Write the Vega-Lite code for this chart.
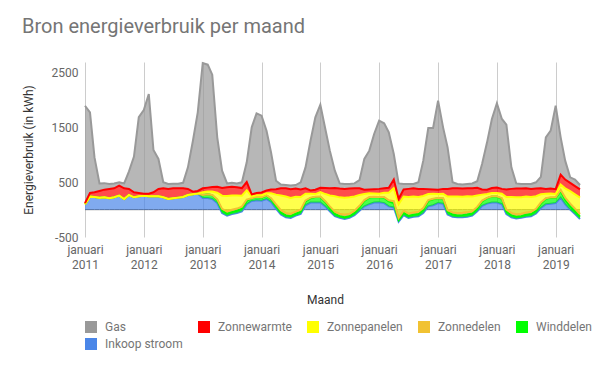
{
  "$schema": "https://vega.github.io/schema/vega-lite/v6.json",
  "width": 600,
  "height": 371,
  "autosize": {"type": "fit", "contains": "padding"},
  "padding": {"left": 22, "top": 18, "right": 16, "bottom": 21},
  "background": "#ffffff",
  "config": {"font": "Roboto", "view": {"stroke": null}, "axisY": {"labelOverlap": false}, "axis": {"labelOverlap": false}},
  "title": {"text": "Bron energieverbruik per maand", "anchor": "start", "frame": "bounds", "offset": 22, "fontSize": 20, "fontWeight": "normal", "color": "#757575", "font": "Roboto"},
  "data": {"values": [
    {"d":"2011-01-01","Inkoop stroom":100,"Winddelen":0,"Zonnedelen":0,"Zonnepanelen":0,"Zonnewarmte":20,"Gas":1780},
    {"d":"2011-02-01","Inkoop stroom":238,"Winddelen":0,"Zonnedelen":0,"Zonnepanelen":0,"Zonnewarmte":67,"Gas":1475},
    {"d":"2011-03-01","Inkoop stroom":232,"Winddelen":0,"Zonnedelen":0,"Zonnepanelen":0,"Zonnewarmte":85,"Gas":639},
    {"d":"2011-04-01","Inkoop stroom":220,"Winddelen":0,"Zonnedelen":0,"Zonnepanelen":0,"Zonnewarmte":122,"Gas":138},
    {"d":"2011-05-01","Inkoop stroom":226,"Winddelen":0,"Zonnedelen":0,"Zonnepanelen":0,"Zonnewarmte":140,"Gas":119},
    {"d":"2011-06-01","Inkoop stroom":207,"Winddelen":0,"Zonnedelen":0,"Zonnepanelen":0,"Zonnewarmte":171,"Gas":92},
    {"d":"2011-07-01","Inkoop stroom":226,"Winddelen":0,"Zonnedelen":0,"Zonnepanelen":0,"Zonnewarmte":164,"Gas":90},
    {"d":"2011-08-01","Inkoop stroom":256,"Winddelen":0,"Zonnedelen":0,"Zonnepanelen":0,"Zonnewarmte":183,"Gas":61},
    {"d":"2011-09-01","Inkoop stroom":195,"Winddelen":0,"Zonnedelen":0,"Zonnepanelen":0,"Zonnewarmte":195,"Gas":90},
    {"d":"2011-10-01","Inkoop stroom":268,"Winddelen":0,"Zonnedelen":0,"Zonnepanelen":0,"Zonnewarmte":110,"Gas":322},
    {"d":"2011-11-01","Inkoop stroom":226,"Winddelen":0,"Zonnedelen":0,"Zonnepanelen":0,"Zonnewarmte":91,"Gas":653},
    {"d":"2011-12-01","Inkoop stroom":244,"Winddelen":0,"Zonnedelen":0,"Zonnepanelen":0,"Zonnewarmte":61,"Gas":1385},
    {"d":"2012-01-01","Inkoop stroom":256,"Winddelen":0,"Zonnedelen":0,"Zonnepanelen":0,"Zonnewarmte":37,"Gas":1527},
    {"d":"2012-02-01","Inkoop stroom":244,"Winddelen":0,"Zonnedelen":0,"Zonnepanelen":0,"Zonnewarmte":49,"Gas":1822},
    {"d":"2012-03-01","Inkoop stroom":244,"Winddelen":0,"Zonnedelen":0,"Zonnepanelen":0,"Zonnewarmte":73,"Gas":773},
    {"d":"2012-04-01","Inkoop stroom":244,"Winddelen":0,"Zonnedelen":0,"Zonnepanelen":0,"Zonnewarmte":134,"Gas":549},
    {"d":"2012-05-01","Inkoop stroom":226,"Winddelen":0,"Zonnedelen":0,"Zonnepanelen":0,"Zonnewarmte":164,"Gas":110},
    {"d":"2012-06-01","Inkoop stroom":195,"Winddelen":0,"Zonnedelen":0,"Zonnepanelen":0,"Zonnewarmte":183,"Gas":92},
    {"d":"2012-07-01","Inkoop stroom":207,"Winddelen":0,"Zonnedelen":0,"Zonnepanelen":0,"Zonnewarmte":183,"Gas":85},
    {"d":"2012-08-01","Inkoop stroom":220,"Winddelen":0,"Zonnedelen":0,"Zonnepanelen":0,"Zonnewarmte":170,"Gas":85},
    {"d":"2012-09-01","Inkoop stroom":232,"Winddelen":0,"Zonnedelen":0,"Zonnepanelen":0,"Zonnewarmte":158,"Gas":100},
    {"d":"2012-10-01","Inkoop stroom":268,"Winddelen":0,"Zonnedelen":0,"Zonnepanelen":0,"Zonnewarmte":110,"Gas":395},
    {"d":"2012-11-01","Inkoop stroom":280,"Winddelen":0,"Zonnedelen":0,"Zonnepanelen":0,"Zonnewarmte":49,"Gas":932},
    {"d":"2012-12-01","Inkoop stroom":293,"Winddelen":0,"Zonnedelen":0,"Zonnepanelen":0,"Zonnewarmte":49,"Gas":1437},
    {"d":"2013-01-01","Inkoop stroom":214,"Winddelen":55,"Zonnedelen":0,"Zonnepanelen":49,"Zonnewarmte":73,"Gas":2291},
    {"d":"2013-02-01","Inkoop stroom":214,"Winddelen":67,"Zonnedelen":0,"Zonnepanelen":49,"Zonnewarmte":73,"Gas":2248},
    {"d":"2013-03-01","Inkoop stroom":195,"Winddelen":70,"Zonnedelen":5,"Zonnepanelen":60,"Zonnewarmte":85,"Gas":2053},
    {"d":"2013-04-01","Inkoop stroom":120,"Winddelen":55,"Zonnedelen":15,"Zonnepanelen":120,"Zonnewarmte":110,"Gas":902},
    {"d":"2013-05-01","Inkoop stroom":-60,"Winddelen":45,"Zonnedelen":30,"Zonnepanelen":240,"Zonnewarmte":140,"Gas":318},
    {"d":"2013-06-01","Inkoop stroom":-110,"Winddelen":35,"Zonnedelen":45,"Zonnepanelen":280,"Zonnewarmte":160,"Gas":70},
    {"d":"2013-07-01","Inkoop stroom":-80,"Winddelen":35,"Zonnedelen":45,"Zonnepanelen":260,"Zonnewarmte":160,"Gas":70},
    {"d":"2013-08-01","Inkoop stroom":-60,"Winddelen":40,"Zonnedelen":40,"Zonnepanelen":240,"Zonnewarmte":150,"Gas":70},
    {"d":"2013-09-01","Inkoop stroom":-30,"Winddelen":50,"Zonnedelen":35,"Zonnepanelen":200,"Zonnewarmte":140,"Gas":105},
    {"d":"2013-10-01","Inkoop stroom":100,"Winddelen":60,"Zonnedelen":25,"Zonnepanelen":170,"Zonnewarmte":150,"Gas":360},
    {"d":"2013-11-01","Inkoop stroom":160,"Winddelen":45,"Zonnedelen":5,"Zonnepanelen":30,"Zonnewarmte":40,"Gas":1225},
    {"d":"2013-12-01","Inkoop stroom":170,"Winddelen":60,"Zonnedelen":5,"Zonnepanelen":30,"Zonnewarmte":40,"Gas":1455},
    {"d":"2014-01-01","Inkoop stroom":165,"Winddelen":55,"Zonnedelen":5,"Zonnepanelen":40,"Zonnewarmte":50,"Gas":1403},
    {"d":"2014-02-01","Inkoop stroom":195,"Winddelen":60,"Zonnedelen":5,"Zonnepanelen":40,"Zonnewarmte":50,"Gas":1094},
    {"d":"2014-03-01","Inkoop stroom":140,"Winddelen":55,"Zonnedelen":15,"Zonnepanelen":90,"Zonnewarmte":70,"Gas":678},
    {"d":"2014-04-01","Inkoop stroom":20,"Winddelen":50,"Zonnedelen":25,"Zonnepanelen":180,"Zonnewarmte":100,"Gas":155},
    {"d":"2014-05-01","Inkoop stroom":-90,"Winddelen":40,"Zonnedelen":40,"Zonnepanelen":270,"Zonnewarmte":130,"Gas":70},
    {"d":"2014-06-01","Inkoop stroom":-140,"Winddelen":35,"Zonnedelen":45,"Zonnepanelen":300,"Zonnewarmte":150,"Gas":60},
    {"d":"2014-07-01","Inkoop stroom":-150,"Winddelen":30,"Zonnedelen":45,"Zonnepanelen":290,"Zonnewarmte":160,"Gas":65},
    {"d":"2014-08-01","Inkoop stroom":-110,"Winddelen":35,"Zonnedelen":40,"Zonnepanelen":270,"Zonnewarmte":150,"Gas":65},
    {"d":"2014-09-01","Inkoop stroom":-80,"Winddelen":45,"Zonnedelen":35,"Zonnepanelen":230,"Zonnewarmte":140,"Gas":130},
    {"d":"2014-10-01","Inkoop stroom":80,"Winddelen":70,"Zonnedelen":20,"Zonnepanelen":120,"Zonnewarmte":100,"Gas":383},
    {"d":"2014-11-01","Inkoop stroom":130,"Winddelen":80,"Zonnedelen":10,"Zonnepanelen":70,"Zonnewarmte":60,"Gas":911},
    {"d":"2014-12-01","Inkoop stroom":130,"Winddelen":100,"Zonnedelen":5,"Zonnepanelen":50,"Zonnewarmte":80,"Gas":1322},
    {"d":"2015-01-01","Inkoop stroom":130,"Winddelen":100,"Zonnedelen":10,"Zonnepanelen":80,"Zonnewarmte":80,"Gas":1519},
    {"d":"2015-02-01","Inkoop stroom":60,"Winddelen":80,"Zonnedelen":15,"Zonnepanelen":130,"Zonnewarmte":110,"Gas":1080},
    {"d":"2015-03-01","Inkoop stroom":-30,"Winddelen":60,"Zonnedelen":30,"Zonnepanelen":200,"Zonnewarmte":130,"Gas":689},
    {"d":"2015-04-01","Inkoop stroom":-120,"Winddelen":40,"Zonnedelen":45,"Zonnepanelen":280,"Zonnewarmte":150,"Gas":318},
    {"d":"2015-05-01","Inkoop stroom":-150,"Winddelen":30,"Zonnedelen":45,"Zonnepanelen":300,"Zonnewarmte":160,"Gas":95},
    {"d":"2015-06-01","Inkoop stroom":-170,"Winddelen":30,"Zonnedelen":50,"Zonnepanelen":310,"Zonnewarmte":160,"Gas":90},
    {"d":"2015-07-01","Inkoop stroom":-150,"Winddelen":30,"Zonnedelen":45,"Zonnepanelen":300,"Zonnewarmte":160,"Gas":85},
    {"d":"2015-08-01","Inkoop stroom":-100,"Winddelen":40,"Zonnedelen":40,"Zonnepanelen":260,"Zonnewarmte":150,"Gas":90},
    {"d":"2015-09-01","Inkoop stroom":-20,"Winddelen":60,"Zonnedelen":30,"Zonnepanelen":200,"Zonnewarmte":120,"Gas":150},
    {"d":"2015-10-01","Inkoop stroom":60,"Winddelen":100,"Zonnedelen":15,"Zonnepanelen":110,"Zonnewarmte":80,"Gas":562},
    {"d":"2015-11-01","Inkoop stroom":100,"Winddelen":120,"Zonnedelen":10,"Zonnepanelen":70,"Zonnewarmte":70,"Gas":709},
    {"d":"2015-12-01","Inkoop stroom":130,"Winddelen":100,"Zonnedelen":5,"Zonnepanelen":60,"Zonnewarmte":80,"Gas":1008},
    {"d":"2016-01-01","Inkoop stroom":135,"Winddelen":90,"Zonnedelen":5,"Zonnepanelen":60,"Zonnewarmte":90,"Gas":1247},
    {"d":"2016-02-01","Inkoop stroom":120,"Winddelen":100,"Zonnedelen":10,"Zonnepanelen":80,"Zonnewarmte":80,"Gas":1188},
    {"d":"2016-03-01","Inkoop stroom":60,"Winddelen":90,"Zonnedelen":20,"Zonnepanelen":140,"Zonnewarmte":90,"Gas":1014},
    {"d":"2016-04-01","Inkoop stroom":40,"Winddelen":80,"Zonnedelen":35,"Zonnepanelen":240,"Zonnewarmte":155,"Gas":468},
    {"d":"2016-05-01","Inkoop stroom":-220,"Winddelen":30,"Zonnedelen":40,"Zonnepanelen":250,"Zonnewarmte":100,"Gas":280},
    {"d":"2016-06-01","Inkoop stroom":-100,"Winddelen":40,"Zonnedelen":40,"Zonnepanelen":260,"Zonnewarmte":130,"Gas":100},
    {"d":"2016-07-01","Inkoop stroom":-150,"Winddelen":35,"Zonnedelen":45,"Zonnepanelen":300,"Zonnewarmte":150,"Gas":90},
    {"d":"2016-08-01","Inkoop stroom":-130,"Winddelen":35,"Zonnedelen":45,"Zonnepanelen":290,"Zonnewarmte":150,"Gas":80},
    {"d":"2016-09-01","Inkoop stroom":-120,"Winddelen":40,"Zonnedelen":40,"Zonnepanelen":270,"Zonnewarmte":150,"Gas":120},
    {"d":"2016-10-01","Inkoop stroom":-60,"Winddelen":60,"Zonnedelen":30,"Zonnepanelen":220,"Zonnewarmte":130,"Gas":516},
    {"d":"2016-11-01","Inkoop stroom":60,"Winddelen":100,"Zonnedelen":15,"Zonnepanelen":110,"Zonnewarmte":90,"Gas":1118},
    {"d":"2016-12-01","Inkoop stroom":80,"Winddelen":110,"Zonnedelen":10,"Zonnepanelen":90,"Zonnewarmte":80,"Gas":1123},
    {"d":"2017-01-01","Inkoop stroom":120,"Winddelen":90,"Zonnedelen":5,"Zonnepanelen":70,"Zonnewarmte":80,"Gas":1628},
    {"d":"2017-02-01","Inkoop stroom":110,"Winddelen":90,"Zonnedelen":10,"Zonnepanelen":80,"Zonnewarmte":90,"Gas":1125},
    {"d":"2017-03-01","Inkoop stroom":-90,"Winddelen":50,"Zonnedelen":30,"Zonnepanelen":250,"Zonnewarmte":140,"Gas":759},
    {"d":"2017-04-01","Inkoop stroom":-130,"Winddelen":40,"Zonnedelen":40,"Zonnepanelen":290,"Zonnewarmte":150,"Gas":110},
    {"d":"2017-05-01","Inkoop stroom":-140,"Winddelen":35,"Zonnedelen":45,"Zonnepanelen":300,"Zonnewarmte":150,"Gas":80},
    {"d":"2017-06-01","Inkoop stroom":-140,"Winddelen":40,"Zonnedelen":45,"Zonnepanelen":290,"Zonnewarmte":150,"Gas":75},
    {"d":"2017-07-01","Inkoop stroom":-130,"Winddelen":40,"Zonnedelen":45,"Zonnepanelen":290,"Zonnewarmte":145,"Gas":80},
    {"d":"2017-08-01","Inkoop stroom":-110,"Winddelen":40,"Zonnedelen":40,"Zonnepanelen":270,"Zonnewarmte":150,"Gas":90},
    {"d":"2017-09-01","Inkoop stroom":-30,"Winddelen":50,"Zonnedelen":30,"Zonnepanelen":210,"Zonnewarmte":140,"Gas":120},
    {"d":"2017-10-01","Inkoop stroom":70,"Winddelen":80,"Zonnedelen":15,"Zonnepanelen":110,"Zonnewarmte":95,"Gas":465},
    {"d":"2017-11-01","Inkoop stroom":110,"Winddelen":100,"Zonnedelen":5,"Zonnepanelen":70,"Zonnewarmte":80,"Gas":866},
    {"d":"2017-12-01","Inkoop stroom":130,"Winddelen":110,"Zonnedelen":5,"Zonnepanelen":60,"Zonnewarmte":90,"Gas":1263},
    {"d":"2018-01-01","Inkoop stroom":130,"Winddelen":110,"Zonnedelen":5,"Zonnepanelen":60,"Zonnewarmte":100,"Gas":1538},
    {"d":"2018-02-01","Inkoop stroom":100,"Winddelen":100,"Zonnedelen":10,"Zonnepanelen":80,"Zonnewarmte":90,"Gas":1278},
    {"d":"2018-03-01","Inkoop stroom":-80,"Winddelen":50,"Zonnedelen":30,"Zonnepanelen":230,"Zonnewarmte":140,"Gas":1184},
    {"d":"2018-04-01","Inkoop stroom":-140,"Winddelen":35,"Zonnedelen":45,"Zonnepanelen":290,"Zonnewarmte":150,"Gas":393},
    {"d":"2018-05-01","Inkoop stroom":-160,"Winddelen":30,"Zonnedelen":45,"Zonnepanelen":310,"Zonnewarmte":160,"Gas":95},
    {"d":"2018-06-01","Inkoop stroom":-150,"Winddelen":30,"Zonnedelen":45,"Zonnepanelen":300,"Zonnewarmte":160,"Gas":85},
    {"d":"2018-07-01","Inkoop stroom":-130,"Winddelen":35,"Zonnedelen":45,"Zonnepanelen":290,"Zonnewarmte":150,"Gas":80},
    {"d":"2018-08-01","Inkoop stroom":-120,"Winddelen":40,"Zonnedelen":40,"Zonnepanelen":270,"Zonnewarmte":150,"Gas":90},
    {"d":"2018-09-01","Inkoop stroom":-70,"Winddelen":50,"Zonnedelen":35,"Zonnepanelen":230,"Zonnewarmte":140,"Gas":115},
    {"d":"2018-10-01","Inkoop stroom":30,"Winddelen":80,"Zonnedelen":20,"Zonnepanelen":150,"Zonnewarmte":110,"Gas":210},
    {"d":"2018-11-01","Inkoop stroom":100,"Winddelen":100,"Zonnedelen":10,"Zonnepanelen":80,"Zonnewarmte":90,"Gas":942},
    {"d":"2018-12-01","Inkoop stroom":110,"Winddelen":110,"Zonnedelen":5,"Zonnepanelen":70,"Zonnewarmte":90,"Gas":1059},
    {"d":"2019-01-01","Inkoop stroom":120,"Winddelen":100,"Zonnedelen":5,"Zonnepanelen":60,"Zonnewarmte":90,"Gas":1526},
    {"d":"2019-02-01","Inkoop stroom":220,"Winddelen":120,"Zonnedelen":20,"Zonnepanelen":100,"Zonnewarmte":180,"Gas":682},
    {"d":"2019-03-01","Inkoop stroom":100,"Winddelen":80,"Zonnedelen":40,"Zonnepanelen":170,"Zonnewarmte":160,"Gas":346},
    {"d":"2019-04-01","Inkoop stroom":0,"Winddelen":60,"Zonnedelen":50,"Zonnepanelen":230,"Zonnewarmte":150,"Gas":100},
    {"d":"2019-05-01","Inkoop stroom":-80,"Winddelen":50,"Zonnedelen":50,"Zonnepanelen":260,"Zonnewarmte":150,"Gas":120},
    {"d":"2019-06-01","Inkoop stroom":-170,"Winddelen":40,"Zonnedelen":50,"Zonnepanelen":300,"Zonnewarmte":150,"Gas":80}
  ]},
  "transform": [
    {"fold": ["Inkoop stroom", "Winddelen", "Zonnedelen", "Zonnepanelen", "Zonnewarmte", "Gas"], "as": ["serie", "waarde"]},
    {"lookup": "serie", "from": {"data": {"values": [
      {"serie": "Inkoop stroom", "ord": 0},
      {"serie": "Winddelen", "ord": 1},
      {"serie": "Zonnedelen", "ord": 2},
      {"serie": "Zonnepanelen", "ord": 3},
      {"serie": "Zonnewarmte", "ord": 4},
      {"serie": "Gas", "ord": 5}
    ]}, "key": "serie", "fields": ["ord"]}},
    {"window": [{"op": "sum", "field": "waarde", "as": "boven"}], "groupby": ["d"], "sort": [{"field": "ord", "order": "ascending"}], "frame": [null, 0]},
    {"window": [{"op": "lag", "field": "boven", "as": "onder"}], "groupby": ["d"], "sort": [{"field": "ord", "order": "ascending"}]}
  ],
  "layer": [
    {
      "transform": [{"filter": "datum.serie === 'Inkoop stroom'"}],
      "mark": {"type": "line", "color": "#555555", "strokeWidth": 1},
      "encoding": {
        "x": {"field": "d", "type": "temporal"},
        "y": {"datum": 0}
      }
    },
    {
      "transform": [{"filter": "datum.serie === 'Inkoop stroom'"}],
      "mark": {"type": "area", "fillOpacity": 0.7, "line": {"strokeWidth": 2}},
      "encoding": {
        "x": {"field": "d", "type": "temporal",
          "scale": {"type": "utc", "domain": [1293840000000, 1559347200000]},
          "axis": {"values": [1293840000000, 1325376000000, 1356998400000, 1388534400000, 1420070400000, 1451606400000, 1483228800000, 1514764800000, 1546300800000],
            "labelExpr": "['januari', utcFormat(datum.value, '%Y')]",
            "title": "Maand", "domain": false, "ticks": false, "labelPadding": 7, "labelLineHeight": 15,
            "labelFontSize": 12, "labelColor": "#666666", "labelFont": "Roboto", "labelFlush": false, "labelOverlap": false,
            "gridColor": "#cccccc", "gridWidth": 1,
            "titleFontSize": 12, "titleFontWeight": "normal", "titleColor": "#333333", "titleFont": "Roboto",
            "titleX": 240, "titleY": 62, "titleBaseline": "middle"}},
        "y": {"field": "waarde", "type": "quantitative",
          "scale": {"domain": [-500, 2700], "nice": false, "zero": false},
          "axis": {"values": [-500, 0, 500, 1000, 1500, 2000, 2500], "title": "Energieverbruik (in kWh)",
            "labelExpr": "'' + datum.value", "labelOverlap": false,
            "domain": false, "ticks": false, "labelPadding": 7, "labelFontSize": 12, "labelColor": "#666666", "labelFont": "Roboto",
            "gridColor": "#cccccc", "gridWidth": 1,
            "titleFontSize": 12, "titleFontWeight": "normal", "titleColor": "#333333", "titleFont": "Roboto",
            "titleX": -57, "titleBaseline": "middle"}},
        "y2": {"datum": 0},
        "color": {"field": "serie", "type": "nominal",
          "scale": {"domain": ["Gas", "Zonnewarmte", "Zonnepanelen", "Zonnedelen", "Winddelen", "Inkoop stroom"], "range": ["#999999", "#ff0000", "#ffff00", "#f1c232", "#00ff00", "#4a86e8"]},
          "legend": {"orient": "bottom", "direction": "horizontal", "columns": 5, "gridAlign": "none", "columnPadding": 15, "rowPadding": 5, "offset": 16, "title": null,
            "symbolType": "square", "symbolSize": 144, "symbolStrokeWidth": 0, "symbolOpacity": 1,
            "labelFontSize": 12, "labelColor": "#757575", "labelFont": "Roboto", "labelOffset": 8}}
      }
    },
    {
      "transform": [{"filter": "datum.serie !== 'Inkoop stroom'"}],
      "mark": {"type": "area", "fillOpacity": 0.7, "line": {"strokeWidth": 2}},
      "encoding": {
        "x": {"field": "d", "type": "temporal"},
        "y": {"field": "boven", "type": "quantitative"},
        "y2": {"field": "onder"},
        "color": {"field": "serie", "type": "nominal"}
      }
    }
  ]
}
